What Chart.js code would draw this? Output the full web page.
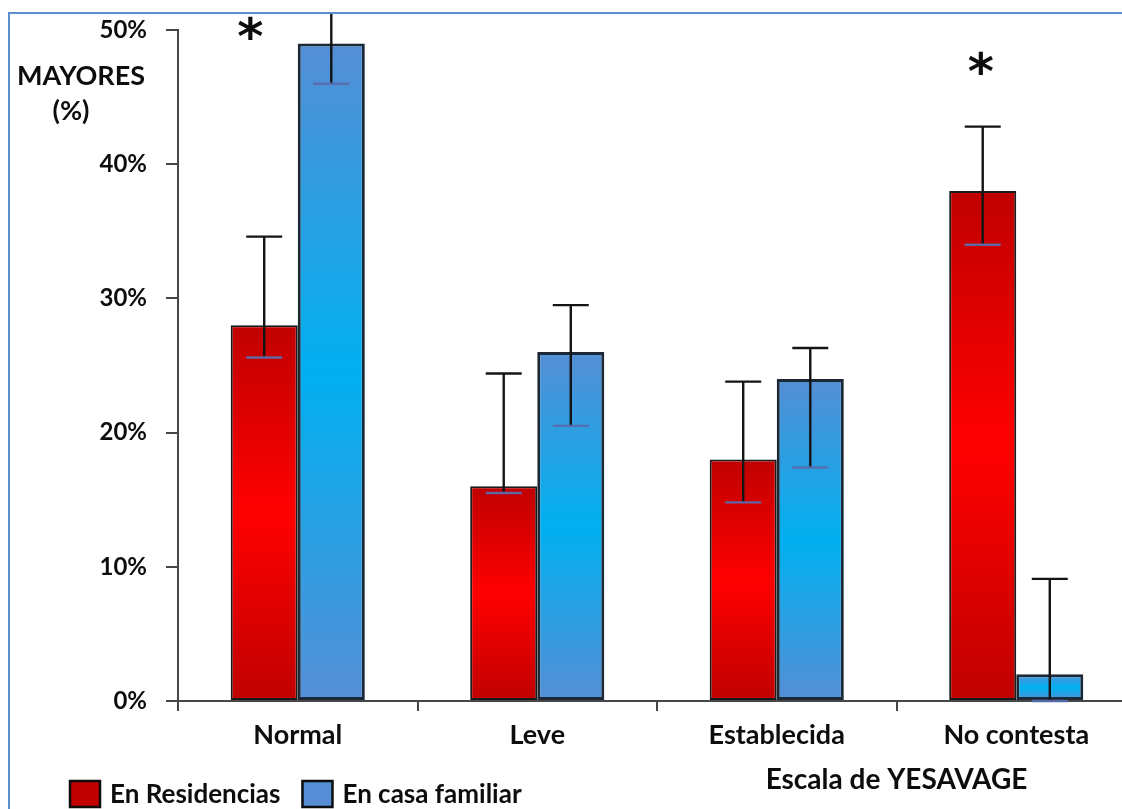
<!DOCTYPE html>
<html lang="es">
<head>
<meta charset="utf-8">
<title>Escala de YESAVAGE</title>
<script src="https://cdn.jsdelivr.net/npm/chart.js@4/dist/chart.umd.min.js"></script>
<style>
  html, body { margin: 0; padding: 0; background: #fff; overflow: hidden; width: 1122px; height: 809px; }
  #frame { position: absolute; left: 8px; top: 12px; width: 1200px; height: 900px;
           border: 2px solid #5B8FD0; box-sizing: border-box; overflow: hidden; background: #fff; }
  #wrap { position: absolute; left: -10px; top: -14px; width: 1160px; height: 809px; }
  canvas { display: block; }
</style>
</head>
<body>
<div id="frame"><div id="wrap"><canvas id="chart" width="1160" height="809" style="width:1160px;height:809px"></canvas></div></div>
<script>
// Categories of the Yesavage geriatric depression scale
const categories = ['Normal', 'Leve', 'Establecida', 'No contesta'];
const seriesNames = ['En Residencias', 'En casa familiar'];

// Percentage of elderly people per category
const residencias = [28, 16, 18, 38];
const casaFamiliar = [49, 26, 24, 2];

// Error bar limits (%)
const residenciasLow  = [25.6, 15.5, 14.8, 34];
const residenciasHigh = [34.6, 24.4, 23.8, 42.8];
const casaLow  = [46, 20.5, 17.4, 0];
const casaHigh = [52, 29.5, 26.3, 9.1];

// Y axis ticks (%)
const yTicks = [0, 10, 20, 30, 40, 50];

// Categories with a significant difference (marked with *)
const significant = ['Normal', 'No contesta'];

const FONT = 'Lato';
const TEXT_COLOR = '#0d0d0d';
const AXIS_COLOR = '#474747';

function barGradient(stops) {
  return function (ctx) {
    const chart = ctx.chart;
    if (!chart.chartArea || ctx.type !== 'data') return stops[0][1];
    const y = chart.scales.y;
    const top = y.getPixelForValue(ctx.raw);
    const bottom = y.getPixelForValue(0);
    if (bottom - top < 1) return stops[0][1];
    const g = chart.ctx.createLinearGradient(0, top, 0, bottom);
    stops.forEach(([o, c]) => g.addColorStop(o, c));
    return g;
  };
}

const redStops  = [[0, '#C00000'], [0.5, '#FF0000'], [1, '#C00000']];
const blueStops = [[0, '#558ED5'], [0.5, '#00B0F0'], [1, '#558ED5']];

// Vertical error bars with caps
const errorBars = {
  id: 'errorBars',
  afterDatasetsDraw(chart) {
    const { ctx, scales: { y } } = chart;
    ctx.save();
    chart.data.datasets.forEach((ds, i) => {
      const meta = chart.getDatasetMeta(i);
      meta.data.forEach((bar, j) => {
        const x = bar.x;
        const lo = y.getPixelForValue(ds.errLow[j]);
        const hi = y.getPixelForValue(ds.errHigh[j]);
        ctx.lineCap = 'butt';
        ctx.strokeStyle = '#141414';
        ctx.lineWidth = 2.4;
        ctx.beginPath();
        ctx.moveTo(x, lo);
        ctx.lineTo(x, hi);
        ctx.stroke();
        ctx.beginPath();
        ctx.moveTo(x - 18, hi);
        ctx.lineTo(x + 18, hi);
        ctx.stroke();
        ctx.strokeStyle = 'rgba(88,108,172,0.95)';
        ctx.beginPath();
        ctx.moveTo(x - 18, lo);
        ctx.lineTo(x + 18, lo);
        ctx.stroke();
      });
    });
    ctx.restore();
  }
};

// Axis titles, significance marks and legend
const annotations = {
  id: 'annotations',
  afterDraw(chart) {
    const { ctx, scales: { x, y } } = chart;
    ctx.save();
    ctx.fillStyle = TEXT_COLOR;
    ctx.textAlign = 'center';
    ctx.textBaseline = 'middle';

    // Y axis title
    ctx.font = `bold 27px ${FONT}`;
    ctx.fillText('MAYORES', 81, 76);
    ctx.fillText('(%)', 71, 111);

    // X axis title
    ctx.font = `bold 28px ${FONT}`;
    ctx.fillText('Escala de YESAVAGE', x.left + 0.75 * x.width, 780);

    // Significance asterisks
    const resMeta = chart.getDatasetMeta(0);
    const markOffset = { 'Normal': -14, 'No contesta': -2 };
    ctx.font = `bold 50px "DejaVu Sans"`;
    significant.forEach(cat => {
      const idx = categories.indexOf(cat);
      const bar = resMeta.data[idx];
      const topVal = Math.max(residenciasHigh[idx], casaHigh[idx]);
      const cy = Math.max(y.getPixelForValue(topVal) - 62, y.top);
      const cx = bar.x + markOffset[cat];
      ctx.fillText('*', cx, cy + 11);
    });

    // Legend
    ctx.font = `bold 26px ${FONT}`;
    ctx.textAlign = 'left';
    let lx = 70;
    const ly = 794;
    chart.data.datasets.forEach(ds => {
      ctx.fillStyle = ds.legendColor;
      ctx.fillRect(lx, ly - 13, 30, 26);
      ctx.strokeStyle = TEXT_COLOR;
      ctx.lineWidth = 2.5;
      ctx.strokeRect(lx, ly - 13, 30, 26);
      ctx.fillStyle = TEXT_COLOR;
      ctx.fillText(ds.label, lx + 40, ly + 1);
      lx += 40 + ctx.measureText(ds.label).width + 22;
    });
    ctx.restore();
  }
};

new Chart(document.getElementById('chart'), {
  type: 'bar',
  data: {
    labels: categories,
    datasets: [
      {
        label: seriesNames[0],
        data: residencias,
        errLow: residenciasLow,
        errHigh: residenciasHigh,
        legendColor: '#C00000',
        backgroundColor: barGradient(redStops),
        borderColor: '#1a1a1a',
        borderWidth: 2,
        borderSkipped: false
      },
      {
        label: seriesNames[1],
        data: casaFamiliar,
        errLow: casaLow,
        errHigh: casaHigh,
        legendColor: '#558ED5',
        backgroundColor: barGradient(blueStops),
        borderColor: '#1b2937',
        borderWidth: 3,
        borderSkipped: false
      }
    ]
  },
  options: {
    responsive: false,
    animation: false,
    devicePixelRatio: 1,
    layout: { padding: { left: 0, top: 30, right: 24, bottom: 0 } },
    plugins: {
      legend: { display: false },
      tooltip: { enabled: false },
      title: { display: false }
    },
    datasets: {
      bar: { categoryPercentage: 0.56, barPercentage: 1 }
    },
    scales: {
      x: {
        offset: true,
        grid: { offset: true, drawOnChartArea: false, tickLength: 10, color: AXIS_COLOR, lineWidth: 2 },
        border: { color: AXIS_COLOR, width: 2 },
        ticks: { color: TEXT_COLOR, padding: 8, font: { family: FONT, weight: 'bold', size: 27 } },
        afterFit(scale) { scale.height = 108; }
      },
      y: {
        min: yTicks[0],
        max: yTicks[yTicks.length - 1],
        afterBuildTicks(scale) { scale.ticks = yTicks.map(v => ({ value: v })); },
        grid: { drawOnChartArea: false, tickLength: 12, color: AXIS_COLOR, lineWidth: 2 },
        border: { color: AXIS_COLOR, width: 2 },
        ticks: {
          color: TEXT_COLOR, padding: 19,
          font: { family: FONT, weight: 'bold', size: 24 },
          callback: v => v + '%'
        },
        afterFit(scale) {
          scale.width = 178;
          scale.paddingTop = 0;
          scale.paddingBottom = 0;
        }
      }
    }
  },
  plugins: [errorBars, annotations]
});
</script>
</body>
</html>
